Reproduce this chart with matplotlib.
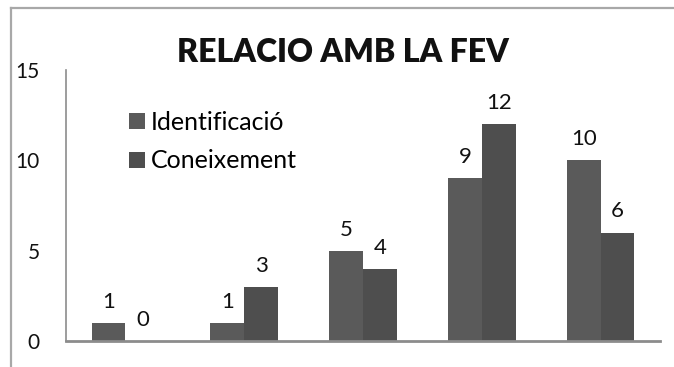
import matplotlib
matplotlib.use("Agg")
import matplotlib.pyplot as plt
from matplotlib.lines import Line2D
import numpy as np

plt.rcParams['font.family'] = ['Lato', 'DejaVu Sans']

categories = ["G1", "G2", "G3", "G4", "G5"]
identificacio = [1, 1, 5, 9, 10]
coneixement = [0, 3, 4, 12, 6]
series_names = ["Identificació", "Coneixement"]
yticks = [0, 5, 10, 15]

W, H = 674, 367
fig = plt.figure(figsize=(W / 100, H / 100), dpi=100)

# outer chart frame (top and left edges)
fig.add_artist(Line2D([11 / W, 11 / W], [0, 1 - 8 / H], transform=fig.transFigure,
                      color="#a8a8a8", lw=1.6))
fig.add_artist(Line2D([11 / W, 1], [1 - 8 / H, 1 - 8 / H], transform=fig.transFigure,
                      color="#a8a8a8", lw=1.6))

ax = fig.add_axes([66 / W, 1 - 341 / H, (660 - 66) / W, (341 - 70) / H])

x = np.arange(len(categories))
bw = 0.285
b1 = ax.bar(x - bw / 2, identificacio, bw, color="#5a5a5a", label=series_names[0])
b2 = ax.bar(x + bw / 2, coneixement, bw, color="#4e4e4e", label=series_names[1])

ax.bar_label(b1, labels=[str(v) for v in identificacio], padding=8, fontsize=16,
             color="#111111")
ax.bar_label(b2, labels=[str(v) for v in coneixement], padding=8, fontsize=16,
             color="#111111")

ax.set_xlim(-0.5, len(categories) - 0.5)
ax.set_ylim(0, 15)
ax.set_yticks(yticks)
ax.set_yticklabels([str(v) for v in yticks], fontsize=15, color="#111111")
ax.set_xticks([])
ax.tick_params(axis="y", length=0, pad=19)
for s in ["top", "right"]:
    ax.spines[s].set_visible(False)
ax.spines["left"].set_color("#8c8c8c")
ax.spines["bottom"].set_color("#8c8c8c")
ax.spines["left"].set_linewidth(1.2)
ax.spines["bottom"].set_linewidth(2.0)

fig.text(343 / W, 1 - 52 / H, "RELACIO AMB LA FEV", ha="center", va="center",
         fontsize=23, fontweight="heavy", color="#111111")

ax.legend(loc="upper left", bbox_to_anchor=(53 / (660 - 66), 1 - 31 / (341 - 70)),
          frameon=False, fontsize=18, handlelength=0.62, handleheight=0.62,
          handletextpad=0.25, labelspacing=0.62, borderaxespad=0)

fig.savefig("out.png", dpi=100)
